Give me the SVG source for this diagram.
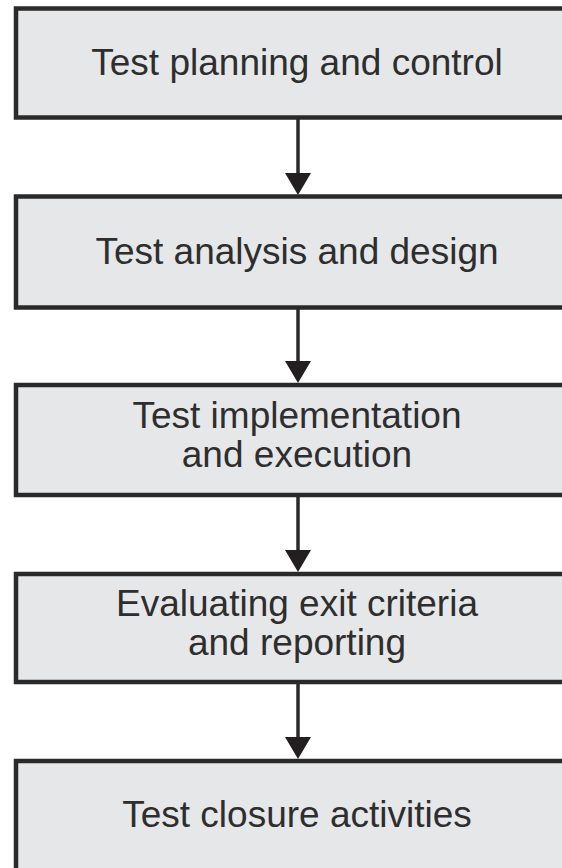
<svg xmlns="http://www.w3.org/2000/svg" width="562" height="868" viewBox="0 0 562 868">
<style>
.box{fill:#e6e7e8;stroke:#2b2a2a;stroke-width:4.5}
.lbl{font-family:"Liberation Sans",Arial,sans-serif;font-size:37px;fill:#2e2e2e;text-anchor:middle}
.con{stroke:#2b2a2a;stroke-width:3.5;fill:none}
.head{fill:#231f20}
</style>
<rect width="562" height="868" fill="#ffffff"/>
<g id="connectors">
<line class="con" x1="298" y1="119" x2="298" y2="180"/>
<polygon class="head" points="285,173 311,173 298,195"/>
<line class="con" x1="298" y1="309" x2="298" y2="368"/>
<polygon class="head" points="285,361 311,361 298,383"/>
<line class="con" x1="298" y1="497" x2="298" y2="557"/>
<polygon class="head" points="285,550 311,550 298,572"/>
<line class="con" x1="298" y1="684" x2="298" y2="745"/>
<polygon class="head" points="285,737 311,737 298,759"/>
</g>
<g id="n1"><rect class="box" x="16" y="8.5" width="560" height="109"/><text class="lbl" x="297" y="75">Test planning and control</text></g>
<g id="n2"><rect class="box" x="16" y="196.5" width="560" height="111"/><text class="lbl" x="297" y="264">Test analysis and design</text></g>
<g id="n3"><rect class="box" x="16" y="385" width="560" height="110"/><text class="lbl" x="297" y="428">Test implementation</text><text class="lbl" x="297" y="467">and execution</text></g>
<g id="n4"><rect class="box" x="16" y="574" width="560" height="108"/><text class="lbl" x="297" y="616">Evaluating exit criteria</text><text class="lbl" x="297" y="655">and reporting</text></g>
<g id="n5"><rect class="box" x="16" y="761" width="560" height="120"/><text class="lbl" x="297" y="827">Test closure activities</text></g>
</svg>
